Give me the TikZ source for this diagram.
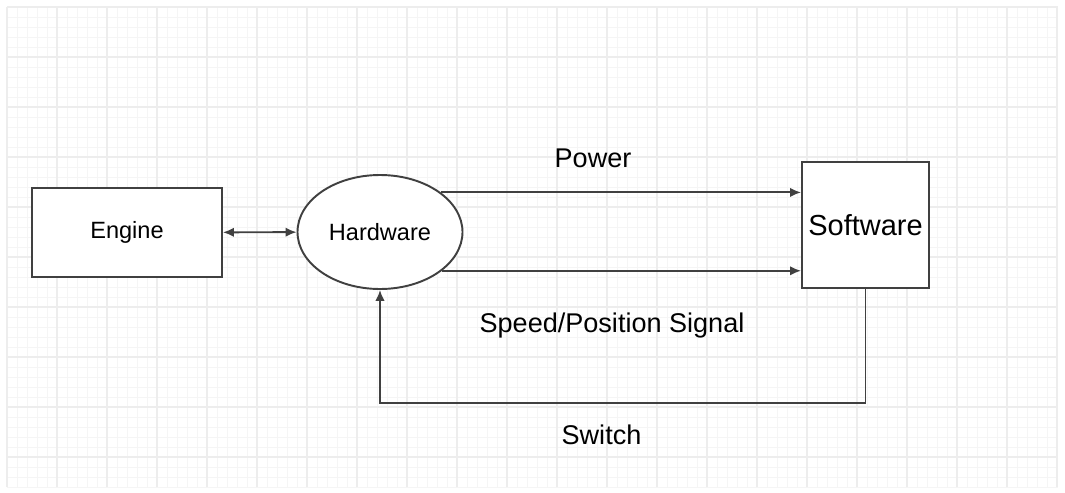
\documentclass[tikz,border=0pt]{standalone}
\usepackage{fontspec}
\setmainfont{Liberation Sans}
\usetikzlibrary{arrows.meta,positioning,shapes.geometric,calc}

\begin{document}
\begin{tikzpicture}[
  line width=1.1pt,
  blk/.style={draw=black!75, fill=white, inner sep=0pt,
              font=\fontsize{13.4}{16}\selectfont},
  lbl/.style={anchor=base, font=\fontsize{15.4}{18}\selectfont},
  conn/.style={draw=black!75, -{Latex[length=2.2mm,width=1.9mm]}},
]
% background and grid
\fill[white] (0,0) rectangle (21.3,-9.84);
\useasboundingbox (0,0) rectangle (21.3,-9.84);
\begin{scope}[shift={(0.14,-0.14)}]
  \draw[black!4, line width=0.4pt, step=0.2] (0,-9.6) grid (21.02,0);
  \draw[black!7, line width=0.6pt, step=1] (0,-9.6) grid (21.02,0);
\end{scope}

% blocks
\node[blk, minimum width=3.8cm, minimum height=1.78cm] (eng) at (2.54,-4.65) {Engine};
\node[blk, ellipse, minimum width=3.3cm, minimum height=2.28cm] (hw) at (7.6,-4.64) {Hardware};
\node[blk, minimum width=2.54cm, minimum height=2.52cm,
      font=\fontsize{16.5}{19}\selectfont] (sw) at (17.31,-4.5) {Software};

% connectors
\draw[conn, {Latex[length=2.2mm,width=1.9mm]}-{Latex[length=2.2mm,width=1.9mm]}] (eng) -- (hw);
\draw[conn] (hw.33) -- (hw.33 -| sw.west);
\draw[conn] (hw.-32) -- (hw.-32 -| sw.west);
\draw[conn] (sw.south) -- ++(0,-2.28) -| (hw.south);

% labels
\node[lbl] (pwr) at (11.86,-3.34) {Power};
\node[lbl] (sig) at (12.24,-6.64) {Speed/Position Signal};
\node[lbl] (swi) at (12.03,-8.88) {Switch};
\end{tikzpicture}
\end{document}
